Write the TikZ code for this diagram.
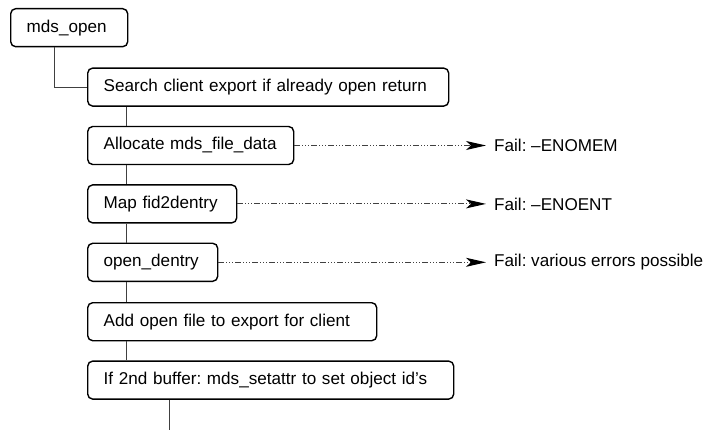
\documentclass[tikz,border=0pt]{standalone}
\usepackage{fontspec}
\setmainfont{Liberation Sans}
\usepackage{tikz}
\usetikzlibrary{arrows.meta, positioning, calc}
\frenchspacing
\tikzset{
  stepbox/.style={rectangle, rounded corners=5pt, minimum height=38pt, inner xsep=16pt, align=left, draw=black, line width=1.4pt},
  failnote/.style={anchor=west, inner xsep=8pt},
  link/.style={draw=black!75, line width=1pt},
  faillink/.style={draw=black!75, line width=1pt, dash pattern=on 6pt off 2pt on 1pt off 2pt on 1pt off 2pt on 1pt off 2pt, -{Stealth[length=20pt, width=9pt, inset=5pt, black]}}
}
\begin{document}
\begin{tikzpicture}[x=1pt, y=1pt, every node/.style={font=\fontsize{17.1pt}{20pt}\selectfont}]
\useasboundingbox (0,0) rectangle (709,-430);
% Steps of the open call, left aligned
\node[stepbox, text width=85pt, anchor=north west] (b1) at (10,-8) {mds\_open};
\node[stepbox, text width=329pt, below right=20pt and 77pt of b1.south west] (b2) {Search client export if already open return};
\node[stepbox, text width=174pt, below right=19pt and 0pt of b2.south west] (b3) {Allocate mds\_file\_data};
\node[stepbox, text width=117pt, below right=19pt and 0pt of b3.south west] (b4) {Map fid2dentry};
\node[stepbox, text width=98pt, below right=19pt and 0pt of b4.south west] (b5) {open\_dentry};
\node[stepbox, text width=257pt, below right=20pt and 0pt of b5.south west] (b6) {Add open file to export for client};
\node[stepbox, text width=334pt, below right=19pt and 0pt of b6.south west] (b7) {If 2nd buffer: mds\_setattr to set object id’s};

\coordinate (failx) at (486,0);
\coordinate (tail) at ([shift={(82pt,-40pt)}]b7.south west);

\node[failnote] (f3) at (b3.east -| failx) {Fail: –ENOMEM};
\node[failnote] (f4) at (b4.east -| failx) {Fail: –ENOENT};
\node[failnote] (f5) at (b5.east -| failx) {Fail: various errors possible};

\draw[link] ([xshift=44pt]b1.south west) |- (b2.west);
\foreach \a/\b in {b2/b3, b3/b4, b4/b5, b5/b6, b6/b7}
  \draw[link] ([xshift=39pt]\a.south west) -- ([xshift=39pt]\b.north west);
\draw[link] ([xshift=82pt]b7.south west) -- (tail);

\draw[faillink] (b3) -- (f3);
\draw[faillink] (b4) -- (f4);
\draw[faillink] (b5) -- (f5);
\end{tikzpicture}
\end{document}
